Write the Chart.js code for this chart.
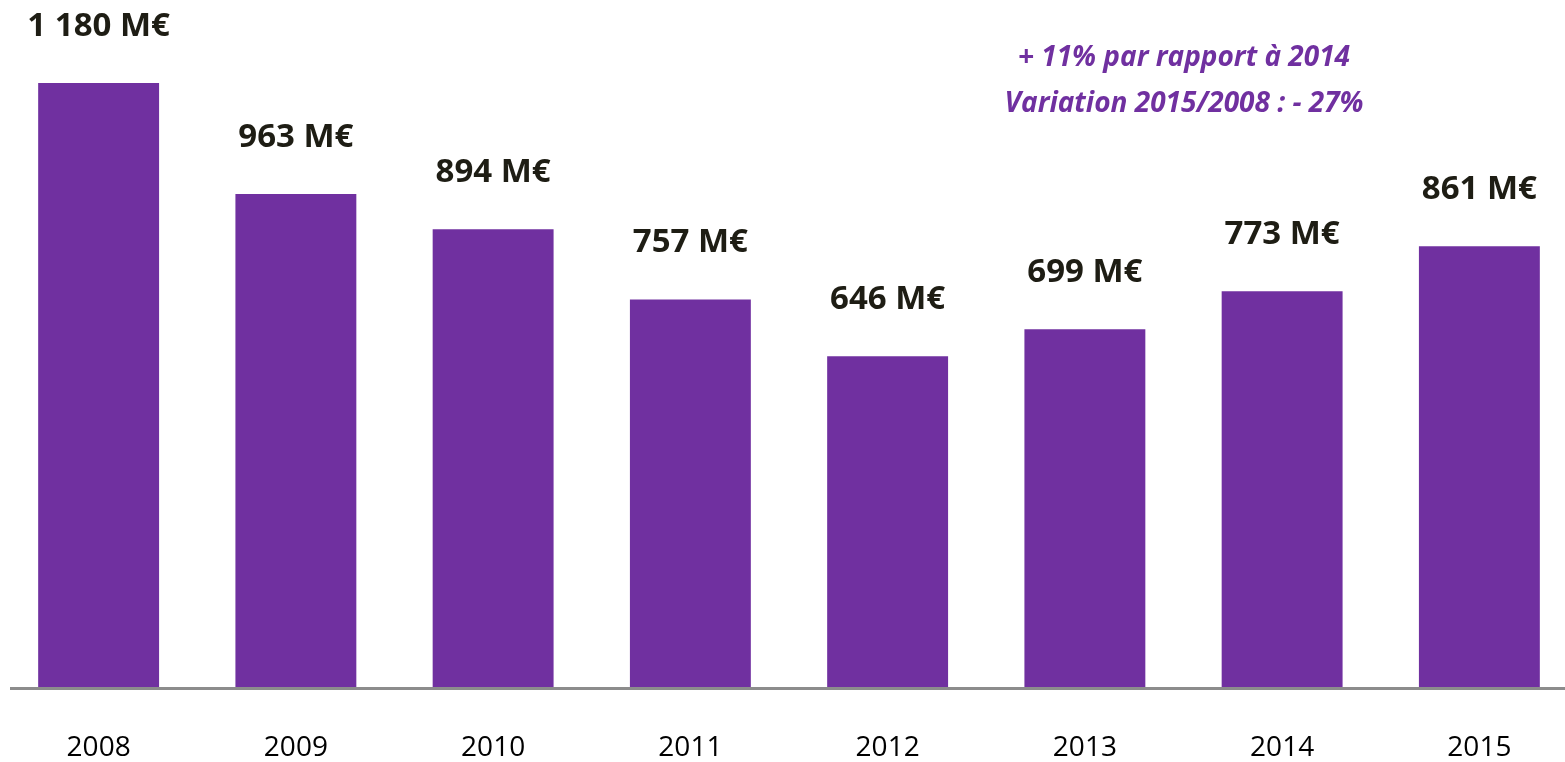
<!DOCTYPE html>
<html>
<head>
<meta charset="UTF-8">
<title>Bar Chart</title>
<style>
	html, body {
		margin: 0;
		padding: 0;
		background: #fff;
		overflow: hidden;
	}
	.container {
		width: 1578px;
		height: 762px;
	}
</style>
<script src="https://cdn.jsdelivr.net/npm/chart.js@4.4.1/dist/chart.umd.min.js"></script>
</head>
<body>
<div class="container">
	<canvas id="myChart"></canvas>
</div>

<script type="text/javascript">
	// data
	var years = ['2008', '2009', '2010', '2011', '2012', '2013', '2014', '2015'];
	var amounts = [1180, 963, 894, 757, 646, 699, 773, 861];
	var valueLabels = ['1 180 M€', '963 M€', '894 M€', '757 M€', '646 M€', '699 M€', '773 M€', '861 M€'];
	var notes = ['+ 11% par rapport à 2014', 'Variation 2015/2008 : - 27%'];

	var purple = '#7030A0';
	var dark = '#1E1D14';

	// gray base line under the bars
	var baseLine = {
		id: 'baseLine',
		beforeDatasetsDraw: function(chart) {
			var ctx = chart.ctx;
			var y = chart.scales.y.getPixelForValue(0) + 1.5;
			ctx.save();
			ctx.strokeStyle = '#8C8C8C';
			ctx.lineWidth = 3;
			ctx.beginPath();
			ctx.moveTo(10, y);
			ctx.lineTo(chart.width, y);
			ctx.stroke();
			ctx.restore();
		}
	};

	// value labels above bars + the note
	var barLabels = {
		id: 'barLabels',
		afterDatasetsDraw: function(chart) {
			var ctx = chart.ctx;
			var meta = chart.getDatasetMeta(0);
			ctx.save();
			ctx.fillStyle = dark;
			ctx.font = 'bold 33px "Open Sans"';
			ctx.textAlign = 'center';
			ctx.textBaseline = 'alphabetic';
			meta.data.forEach(function(bar, i) {
				ctx.fillText(valueLabels[i], bar.x, bar.y - 47);
			});

			ctx.fillStyle = purple;
			ctx.font = 'italic bold 28px "Open Sans"';
			ctx.fillText(notes[0], 1184, 66);
			ctx.fillText(notes[1], 1184, 112);
			ctx.restore();
		}
	};

	var ctx = document.getElementById('myChart').getContext('2d');
	var myChart = new Chart(ctx, {
		type: 'bar',
		data: {
			labels: years,
			datasets: [{
				data: amounts,
				backgroundColor: purple,
				categoryPercentage: 1,
				barPercentage: 0.613
			}]
		},
		options: {
			responsive: true,
			maintainAspectRatio: false,
			animation: false,
			layout: { padding: { top: 21.5, left: 0, right: 0, bottom: 0 } },
			plugins: {
				legend: { display: false },
				tooltip: { enabled: false }
			},
			scales: {
				x: {
					grid: { display: false, drawTicks: false },
					border: { display: false },
					afterFit: function(scale) { scale.height = 75; },
					ticks: {
						color: '#000',
						padding: 44,
						font: { family: 'Open Sans', size: 28 }
					}
				},
				y: {
					display: false,
					min: 0,
					max: 1300
				}
			}
		},
		plugins: [baseLine, barLabels]
	});
</script>
</body>
</html>
